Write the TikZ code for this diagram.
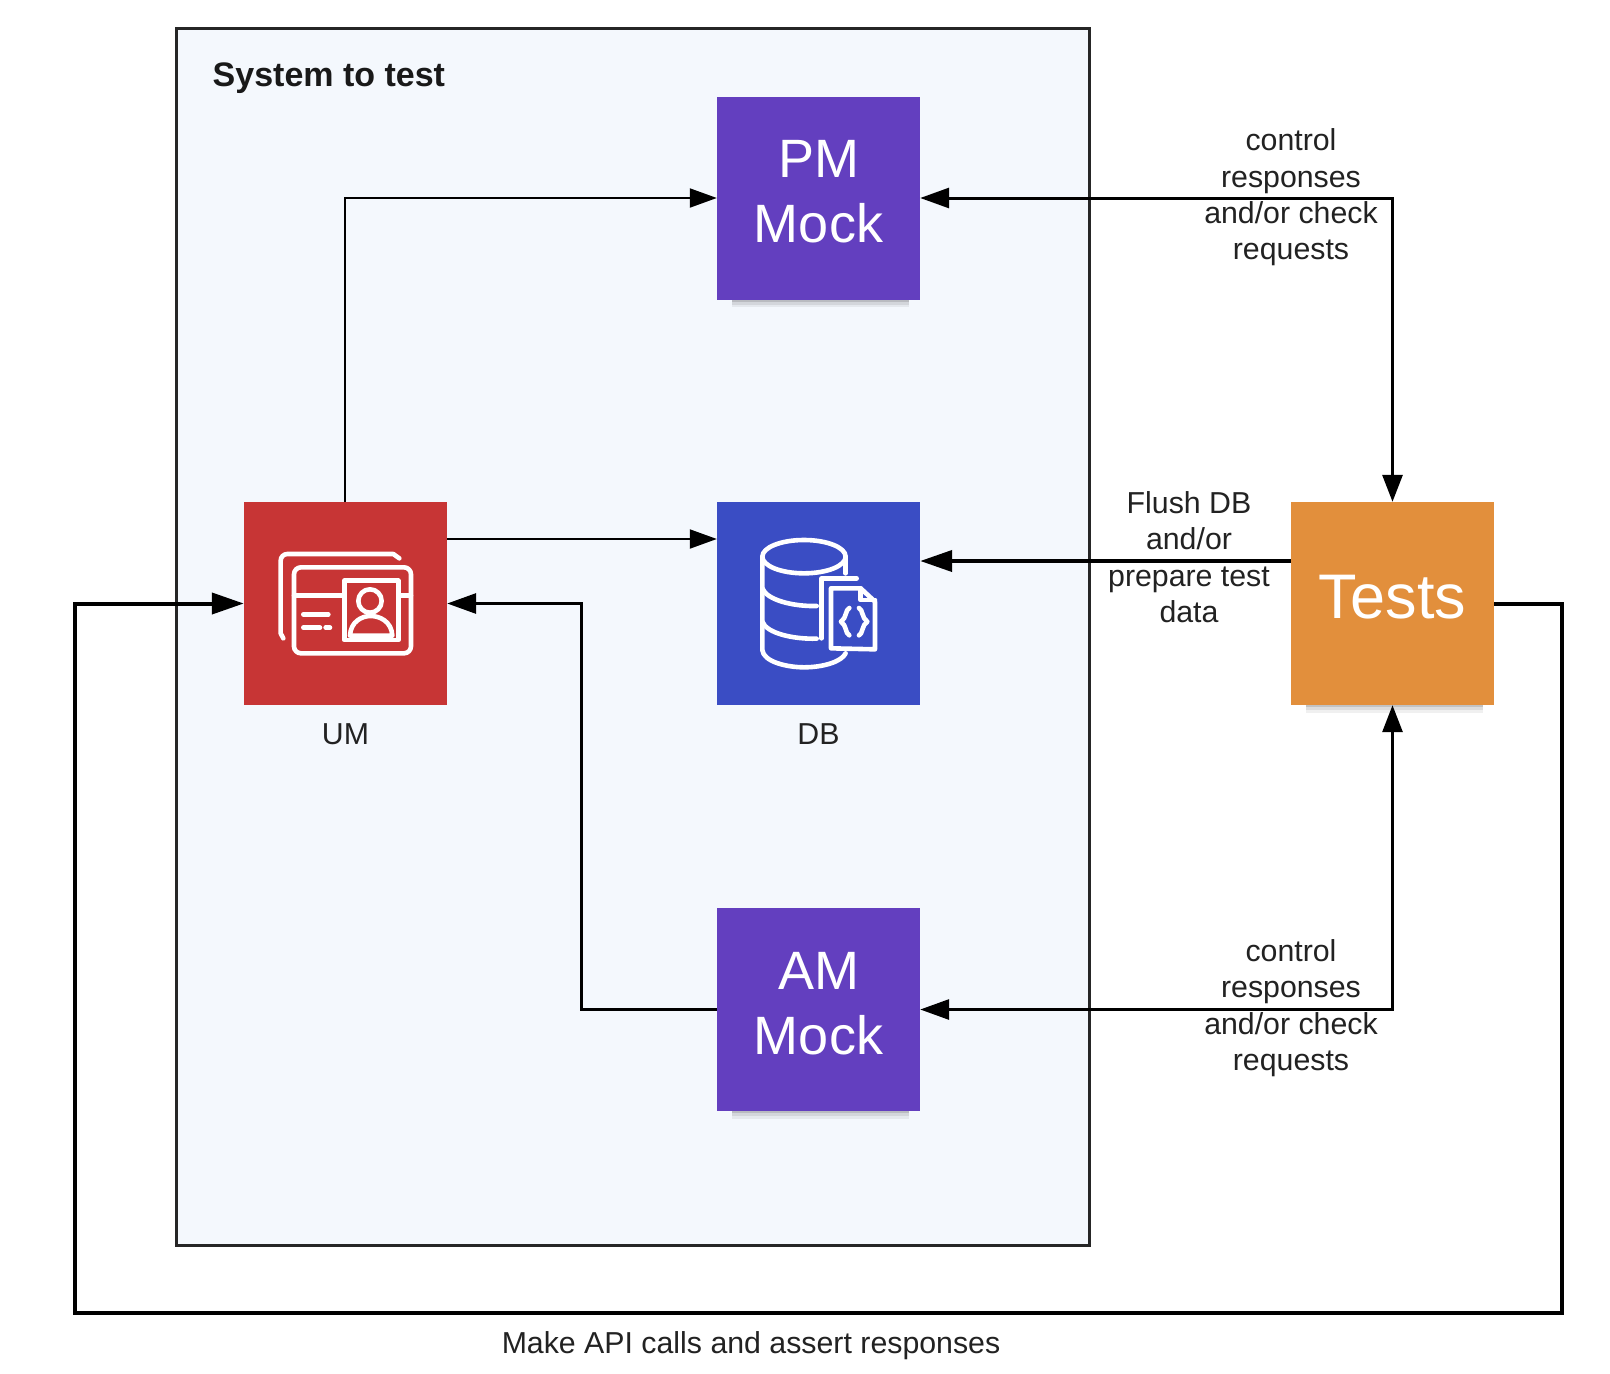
\documentclass[tikz,border=0pt]{standalone}
\usepackage{fontspec}
\setmainfont{Liberation Sans}
\usetikzlibrary{arrows.meta,shadows,calc}
\definecolor{framefill}{HTML}{F4F8FD}
\definecolor{mockpurple}{HTML}{633FBF}
\definecolor{dbblue}{HTML}{3A4DC4}
\definecolor{umred}{HTML}{C73535}
\definecolor{testorange}{HTML}{E28F3C}
\definecolor{inktext}{HTML}{222222}
\tikzset{
  tile/.style={rectangle,minimum width=203pt,minimum height=203pt,inner sep=0pt,text=white,align=center},
  softshadow/.style={general shadow={fill=black,opacity=.06,shadow scale=.87,shadow xshift=2pt,shadow yshift=-24pt},
                     general shadow={fill=black,opacity=.08,shadow scale=.87,shadow xshift=2pt,shadow yshift=-21pt},
                     general shadow={fill=black,opacity=.12,shadow scale=.87,shadow xshift=2pt,shadow yshift=-18pt}},
  mocktext/.style={font=\fontsize{54}{65}\selectfont},
  lab/.style={text=inktext,align=center,inner sep=0pt,font=\fontsize{30.3}{36.4}\selectfont},
  thinline/.style={line width=2pt,-{Triangle[length=27pt,width=19pt]}},
  thickline/.style={line width=4pt,-{Triangle[length=32pt,width=21pt]}},
  midline/.style={line width=3pt,-{Triangle[length=29pt,width=20pt]}},
  icon/.style={draw=white,line width=4.6pt,line cap=round,line join=round},
}
\begin{document}
\begin{tikzpicture}[x=1pt,y=-1pt]
\useasboundingbox (0,0) rectangle (1610,1374);
\fill[white] (0,0) rectangle (1610,1374);
\node[draw=black!85,line width=3pt,fill=framefill,rectangle,inner sep=0pt,minimum width=913pt,minimum height=1217pt] (frame) at (632.5,637) {};
\node[anchor=west,inner sep=0pt,text=black!90,font=\fontsize{34}{40}\selectfont\bfseries] (title) at (212.5,78) {System to test};

\node[tile,softshadow,fill=mockpurple,mocktext] (pm) at (818.5,198) {PM\\Mock\\[-52pt]};
\node[tile,fill=umred] (um) at (345.5,603.5) {};
\node[tile,fill=dbblue] (db) at (818.5,603.5) {};
\node[tile,softshadow,fill=mockpurple,mocktext] (am) at (818.5,1009.5) {AM\\Mock\\[-52pt]};
\node[tile,softshadow,fill=testorange,font=\fontsize{63}{65}\selectfont] (tests) at (1392.5,603.5) {Tests\\[-52pt]};

% UM icon
\begin{scope}[shift={(230,490)},x=.3333pt,y=-.3333pt]
  \draw[icon] (160,445) -- (152,430) -- (152,212) arc[start angle=180,end angle=90,x radius=20,y radius=-20] -- (490,192) -- (508,205);
  \draw[icon,rounded corners=7pt] (192,232) rectangle (543,490);
  \draw[icon] (192,317) -- (340,317) (505,317) -- (543,317);
  \draw[icon,line cap=butt] (343,272) rectangle (505,450);
  \draw[icon] (420,333) circle[radius=35];
  \draw[icon] (360,437) .. controls (362,395) and (395,378) .. (422,378) .. controls (450,378) and (485,395) .. (487,437) -- cycle;
  \draw[icon] (220,373) -- (295,373) (220,413) -- (270,413) (287,413) -- (300,413);
\end{scope}

% DB icon
\begin{scope}[shift={(700,490)},x=.3333pt,y=-.3333pt]
  \draw[icon] (312,200) ellipse[x radius=125,y radius=50];
  \draw[icon] (187,200) -- (187,480) .. controls (190,515) and (260,532) .. (312,532) .. controls (370,532) and (425,515) .. (437,490);
  \draw[icon] (437,200) -- (437,250);
  \draw[icon] (187,295) .. controls (200,330) and (280,350) .. (350,348);
  \draw[icon] (187,395) .. controls (200,430) and (280,448) .. (350,446);
  \draw[icon] (365,445) -- (365,265) -- (470,265);
  \draw[icon] (393,475) -- (393,295) -- (482,295) -- (525,335) -- (525,478) -- cycle;
  \draw[icon] (482,295) -- (482,330) -- (525,330);
  \draw[icon] (448,354) .. controls (436,358) and (440,385) .. (423,395) .. controls (440,405) and (436,432) .. (448,436);
  \draw[icon] (477,354) .. controls (489,358) and (485,385) .. (502,395) .. controls (485,405) and (489,432) .. (477,436);
\end{scope}

% labels
\node[lab] (umlabel) at (345.5,734) {UM};
\node[lab] (dblabel) at (818.5,734) {DB};
\node[lab] (pmlabel) at (1291,197.5) {control\\responses\\and/or check\\requests};
\node[lab] (amlabel) at (1291,1008) {control\\responses\\and/or check\\requests};
\node[lab] (dbnote) at (1189,557) {Flush DB\\and/or\\prepare test\\data};
\node[lab] (apilabel) at (751,1346) {Make API calls and assert responses};

% connectors
\coordinate (outerbottomright) at (1562,1313);
\coordinate (outerbottomleft) at (75,1313);
\coordinate (amturn) at (581,1009.5);
\coordinate (pmturn) at (1392.5,198);
\coordinate (amtestturn) at (1392.5,1009.5);

\draw[thinline] ([xshift=-.8pt]um.north) |- (pm.west);
\draw[thinline] ([yshift=64.5pt]um.east) -- ([yshift=64.5pt]db.west);
\draw[midline] (am.west) -- (amturn) |- (um.east);
\draw[thickline] (tests.east) -| (outerbottomright) -- (outerbottomleft) |- (um.west);
\draw[thickline] ([yshift=42.5pt]tests.west) -- ([yshift=42.5pt]db.east);
\draw[midline,{Triangle[length=29pt,width=20pt]}-{Triangle[length=27pt,width=20pt]}] (pm.east) -- (pmturn) -- (tests.north);
\draw[midline,{Triangle[length=29pt,width=20pt]}-{Triangle[length=27pt,width=20pt]}] (am.east) -- (amtestturn) -- (tests.south);
\end{tikzpicture}
\end{document}
